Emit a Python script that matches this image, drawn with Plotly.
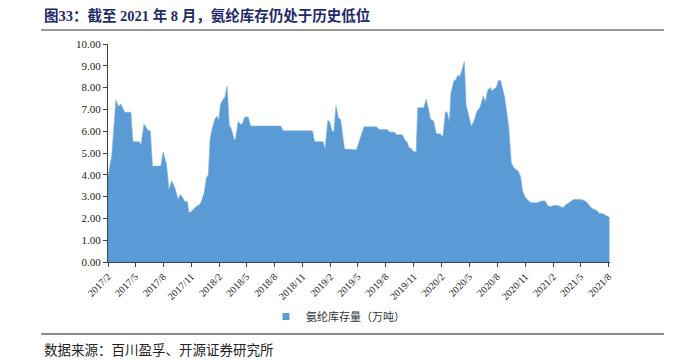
import plotly.graph_objects as go

dates = [
    "2017-02-01", "2017-02-13", "2017-02-27", "2017-03-07", "2017-03-15", "2017-03-21", "2017-03-28",
    "2017-04-17", "2017-04-24", "2017-05-15", "2017-05-20", "2017-05-30", "2017-06-06", "2017-06-13",
    "2017-06-20", "2017-06-27", "2017-07-24", "2017-08-01", "2017-08-12", "2017-08-20", "2017-08-29",
    "2017-09-09", "2017-09-19", "2017-09-26", "2017-10-04", "2017-10-11", "2017-10-19", "2017-10-25",
    "2017-10-31", "2017-11-11", "2017-11-19", "2017-11-27", "2017-12-05", "2017-12-14", "2017-12-21",
    "2017-12-27", "2018-01-02", "2018-01-09", "2018-01-18", "2018-01-24", "2018-01-30", "2018-02-05",
    "2018-02-12", "2018-02-19", "2018-02-27", "2018-03-06", "2018-03-11", "2018-03-22", "2018-03-26",
    "2018-04-04", "2018-04-12", "2018-04-17", "2018-04-26", "2018-05-07", "2018-05-15", "2018-08-22",
    "2018-08-29", "2018-12-04", "2018-12-11", "2019-01-08", "2019-01-14", "2019-01-23", "2019-01-29",
    "2019-02-06", "2019-02-12", "2019-02-19", "2019-02-27", "2019-03-06", "2019-03-19", "2019-04-27",
    "2019-05-22", "2019-07-02", "2019-07-10", "2019-08-05", "2019-08-14", "2019-08-30", "2019-09-05",
    "2019-09-25", "2019-10-03", "2019-10-10", "2019-10-16", "2019-10-24", "2019-11-01", "2019-11-09",
    "2019-11-14", "2019-12-04", "2019-12-12", "2019-12-20", "2019-12-26", "2020-01-05", "2020-01-14",
    "2020-01-27", "2020-02-05", "2020-02-13", "2020-02-19", "2020-02-26", "2020-03-02", "2020-03-12",
    "2020-03-18", "2020-03-25", "2020-03-31", "2020-04-07", "2020-04-15", "2020-04-21", "2020-05-08",
    "2020-05-16", "2020-05-27", "2020-06-05", "2020-06-16", "2020-06-23", "2020-07-01", "2020-07-09",
    "2020-07-14", "2020-07-23", "2020-07-29", "2020-08-05", "2020-08-12", "2020-08-25", "2020-09-08",
    "2020-09-16", "2020-09-24", "2020-10-08", "2020-10-16", "2020-10-24", "2020-11-02", "2020-11-12",
    "2020-11-20", "2020-12-12", "2020-12-23", "2021-01-05", "2021-01-14", "2021-01-25", "2021-02-05",
    "2021-02-21", "2021-03-04", "2021-03-15", "2021-03-26", "2021-04-09", "2021-05-03", "2021-05-16",
    "2021-05-25", "2021-06-05", "2021-06-16", "2021-06-25", "2021-07-02", "2021-07-13", "2021-07-24",
    "2021-08-04",
]

inventory = [
    3.95, 4.85, 7.43, 7.13, 7.25, 7.05, 6.87,
    6.87, 5.52, 5.52, 5.37, 6.32, 6.15, 6.02,
    6.02, 4.40, 4.40, 5.05, 4.50, 3.33, 3.73,
    3.38, 2.87, 3.10, 2.95, 2.77, 2.77, 2.27,
    2.30, 2.45, 2.57, 2.60, 2.80, 3.22, 3.88,
    3.99, 5.67, 6.13, 6.56, 6.70, 6.50, 7.23,
    7.43, 7.55, 8.07, 6.24, 6.18, 5.62, 5.62,
    6.44, 6.32, 6.33, 6.65, 6.65, 6.24, 6.24,
    6.02, 6.02, 5.52, 5.52, 5.18, 6.48, 6.45,
    6.00, 6.00, 7.17, 6.59, 6.55, 5.18, 5.15,
    6.20, 6.20, 6.08, 6.08, 5.96, 5.95, 5.84,
    5.84, 5.60, 5.52, 5.26, 5.20, 5.06, 5.06,
    7.08, 7.08, 7.48, 6.97, 6.55, 6.48, 5.89,
    5.87, 5.75, 6.90, 6.85, 6.44, 7.74, 8.32,
    8.35, 8.58, 8.50, 8.78, 9.19, 7.20, 6.24,
    6.44, 6.93, 7.08, 7.61, 7.35, 7.89, 8.00,
    7.85, 7.96, 8.00, 8.32, 8.32, 7.58, 6.18,
    4.56, 4.33, 4.18, 3.95, 3.22, 2.95, 2.80,
    2.72, 2.72, 2.80, 2.80, 2.57, 2.55, 2.60,
    2.57, 2.49, 2.63, 2.72, 2.87, 2.87, 2.80,
    2.69, 2.49, 2.41, 2.35, 2.23, 2.22, 2.13,
    2.05,
]

tick_dates = [
    "2017-02-01", "2017-05-01", "2017-08-01", "2017-11-01", "2018-02-01", "2018-05-01", "2018-08-01",
    "2018-11-01", "2019-02-01", "2019-05-01", "2019-08-01", "2019-11-01", "2020-02-01", "2020-05-01",
    "2020-08-01", "2020-11-01", "2021-02-01", "2021-05-01", "2021-08-01",
]
tick_labels = [
    "2017/2", "2017/5", "2017/8", "2017/11", "2018/2", "2018/5", "2018/8",
    "2018/11", "2019/2", "2019/5", "2019/8", "2019/11", "2020/2", "2020/5",
    "2020/8", "2020/11", "2021/2", "2021/5", "2021/8",
]

series_name = "氨纶库存量（万吨）"
title_text = "图33：截至 2021 年 8 月，氨纶库存仍处于历史低位"
source_text = "数据来源：百川盈孚、开源证券研究所"

BLUE = "#5B9BD5"
SERIF = "Liberation Serif, Noto Sans CJK SC, serif"
CJK = "Noto Sans CJK SC, sans-serif"

fig = go.Figure()
fig.add_trace(go.Scatter(
    x=dates, y=inventory, mode="lines", fill="tozeroy",
    line=dict(color="#7FB2E0", width=0.6), fillcolor=BLUE,
    showlegend=False, hoverinfo="x+y",
))
fig.add_trace(go.Scatter(
    x=[None], y=[None], mode="markers", name=series_name,
    marker=dict(symbol="square", size=7, color=BLUE),
))

# page body has an 8px margin, so the figure is 8px smaller and margins shifted
fig.update_layout(
    width=666, height=352,
    margin=dict(l=100, r=64, t=36, b=98),
    paper_bgcolor="white", plot_bgcolor="white",
    showlegend=True,
    legend=dict(
        orientation="h", x=(266 - 108) / 502, xanchor="left", y=-0.25, yanchor="middle",
        font=dict(family=CJK, size=11, color="#333333"),
        itemwidth=30, bgcolor="rgba(0,0,0,0)",
    ),
    xaxis=dict(
        type="date", range=["2017-02-01", "2021-08-06"],
        tickvals=tick_dates, ticktext=tick_labels, tickangle=-45,
        ticks="outside", ticklen=4, tickcolor="#404040",
        showline=True, linecolor="#404040", linewidth=1,
        showgrid=False, zeroline=False,
        tickfont=dict(family=SERIF, size=10, color="#222222"),
    ),
    yaxis=dict(
        range=[0, 10], dtick=1, tickformat=".2f",
        ticks="outside", ticklen=4, tickcolor="#404040",
        showline=True, linecolor="#404040", linewidth=1,
        showgrid=False, zeroline=False,
        tickfont=dict(family=SERIF, size=11, color="#222222"),
    ),
)

fig.add_annotation(
    xref="paper", yref="paper", x=(42 - 108) / 502, y=1 + (44 - 15) / 218,
    xanchor="left", yanchor="middle", showarrow=False,
    text="<b>" + title_text + "</b>",
    font=dict(family=SERIF, size=14.5, color="#1F2A6B"),
)
fig.add_annotation(
    xref="paper", yref="paper", x=(42 - 108) / 502, y=(262 - 349) / 218,
    xanchor="left", yanchor="middle", showarrow=False,
    text=source_text,
    font=dict(family=CJK, size=13.5, color="#222222"),
)
fig.add_shape(
    type="line", xref="paper", yref="paper",
    x0=(41 - 108) / 502, x1=(664 - 108) / 502,
    y0=1 + (44 - 30) / 218, y1=1 + (44 - 30) / 218,
    line=dict(color="#333333", width=1.2),
)
fig.add_shape(
    type="line", xref="paper", yref="paper",
    x0=(41 - 108) / 502, x1=(664 - 108) / 502,
    y0=(262 - 334) / 218, y1=(262 - 334) / 218,
    line=dict(color="#8C8C8C", width=2),
)

fig.write_html("out.html")
